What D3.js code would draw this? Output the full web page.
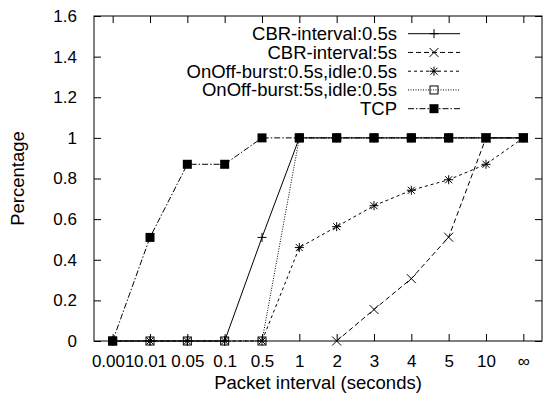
<!DOCTYPE html>
<html>
<head>
<meta charset="utf-8">
<script src="https://cdn.jsdelivr.net/npm/d3@7"></script>
<style>
  body { margin: 0; background: #fff; }
  svg { display: block; font-family: "Liberation Sans", Arial, Helvetica, sans-serif; }
</style>
</head>
<body>
<div id="chart"></div>
<script>
// Categories on the x axis (packet interval)
const categories = ["0.001", "0.01", "0.05", "0.1", "0.5", "1", "2", "3", "4", "5", "10", "\u221e"];
const yTicks = [0, 0.2, 0.4, 0.6, 0.8, 1, 1.2, 1.4, 1.6];

// Series values (null = no point)
const cbr05 = [0, 0, 0, 0, 0.51, 1, 1, 1, 1, 1, 1, 1];
const cbr5 = [null, null, null, null, null, null, 0, 0.155, 0.307, 0.511, 1, 1];
const onoff05 = [0, 0, 0, 0, 0, 0.46, 0.563, 0.666, 0.742, 0.794, 0.87, 1];
const onoff5 = [0, 0, 0, 0, 0, 1, 1, 1, 1, 1, 1, 1];
const tcp = [0, 0.51, 0.87, 0.87, 1, 1, 1, 1, 1, 1, 1, 1];

const seriesNames = [
  "CBR-interval:0.5s",
  "CBR-interval:5s",
  "OnOff-burst:0.5s,idle:0.5s",
  "OnOff-burst:5s,idle:0.5s",
  "TCP"
];

const series = [
  { name: seriesNames[0], values: cbr05, dash: null, marker: "plus" },
  { name: seriesNames[1], values: cbr5, dash: "5,3", marker: "cross" },
  { name: seriesNames[2], values: onoff05, dash: "3,3", marker: "star" },
  { name: seriesNames[3], values: onoff5, dash: "1,1.5", marker: "box" },
  { name: seriesNames[4], values: tcp, dash: "6,2,1.5,2", marker: "fbox" }
];

const width = 543, height = 398;
const plotLeft = 94, plotRight = 542, plotTop = 16, plotBottom = 341;

const svg = d3.select("#chart").append("svg")
  .attr("width", width)
  .attr("height", height);

const x = d3.scalePoint().domain(categories).range([plotLeft, plotRight]).padding(0.5);
const y = d3.scaleLinear().domain([0, 1.6]).range([plotBottom, plotTop]);

// Frame
svg.append("rect")
  .attr("x", plotLeft).attr("y", plotTop)
  .attr("width", plotRight - plotLeft).attr("height", plotBottom - plotTop)
  .attr("fill", "none").attr("stroke", "#000").attr("stroke-width", 1);

// Axes (gnuplot style: ticks inside, mirrored)
const tickLen = 7;
svg.append("g")
  .attr("transform", `translate(0,${plotBottom})`)
  .call(d3.axisBottom(x).tickSizeInner(-tickLen).tickSizeOuter(0).tickPadding(14))
  .call(g => g.select(".domain").remove())
  .call(g => g.selectAll("text").attr("font-size", "17px").attr("fill", "#000").attr("font-family", null));

svg.append("g")
  .attr("transform", `translate(0,${plotTop})`)
  .call(d3.axisTop(x).tickSizeInner(-tickLen).tickSizeOuter(0).tickFormat(""))
  .call(g => g.select(".domain").remove());

svg.append("g")
  .attr("transform", `translate(${plotLeft},0)`)
  .call(d3.axisLeft(y).tickValues(yTicks).tickFormat(d3.format("~g")).tickSizeInner(-tickLen).tickSizeOuter(0).tickPadding(17))
  .call(g => g.select(".domain").remove())
  .call(g => g.selectAll("text").attr("font-size", "17px").attr("fill", "#000").attr("font-family", null));

svg.append("g")
  .attr("transform", `translate(${plotRight},0)`)
  .call(d3.axisRight(y).tickValues(yTicks).tickSizeInner(-tickLen).tickSizeOuter(0).tickFormat(""))
  .call(g => g.select(".domain").remove());

svg.selectAll(".tick line").attr("stroke", "#000");

// Axis titles
svg.append("text")
  .attr("x", (plotLeft + plotRight) / 2).attr("y", 389)
  .attr("text-anchor", "middle").attr("font-size", "18.5px")
  .text("Packet interval (seconds)");

svg.append("text")
  .attr("transform", `translate(24,${(plotTop + plotBottom) / 2}) rotate(-90)`)
  .attr("text-anchor", "middle").attr("font-size", "18.5px")
  .text("Percentage");

// Marker drawing
function drawMarker(g, type, cx, cy) {
  const s = 4.5;
  if (type === "plus" || type === "star") {
    g.append("line").attr("x1", cx - s).attr("x2", cx + s).attr("y1", cy).attr("y2", cy).attr("stroke", "#000");
    g.append("line").attr("x1", cx).attr("x2", cx).attr("y1", cy - s).attr("y2", cy + s).attr("stroke", "#000");
  }
  if (type === "cross" || type === "star") {
    const c = type === "star" ? 3.5 : 4.5;
    g.append("line").attr("x1", cx - c).attr("x2", cx + c).attr("y1", cy - c).attr("y2", cy + c).attr("stroke", "#000");
    g.append("line").attr("x1", cx - c).attr("x2", cx + c).attr("y1", cy + c).attr("y2", cy - c).attr("stroke", "#000");
  }
  if (type === "box") {
    g.append("rect").attr("x", cx - 4).attr("y", cy - 4).attr("width", 8).attr("height", 8)
      .attr("fill", "none").attr("stroke", "#000");
  }
  if (type === "fbox") {
    g.append("rect").attr("x", cx - 4.5).attr("y", cy - 4.5).attr("width", 9).attr("height", 9)
      .attr("fill", "#000");
  }
}

const line = d3.line()
  .defined(d => d.v !== null)
  .x(d => x(d.c))
  .y(d => y(d.v));

// Series lines and points
series.forEach(s => {
  const g = svg.append("g");
  const pts = s.values.map((v, i) => ({ c: categories[i], v: v }));
  g.append("path")
    .attr("d", line(pts))
    .attr("fill", "none")
    .attr("stroke", "#000")
    .attr("stroke-width", 1)
    .attr("stroke-dasharray", s.dash);
  pts.filter(p => p.v !== null).forEach(p => drawMarker(g, s.marker, x(p.c), y(p.v)));
});

// Legend
const legendTextX = 397, legendX1 = 408, legendX2 = 460, legendY0 = 33.7, legendStep = 18.75;
series.forEach((s, i) => {
  const ly = legendY0 + i * legendStep;
  const g = svg.append("g");
  g.append("text")
    .attr("x", legendTextX).attr("y", ly)
    .attr("dy", "0.35em")
    .attr("text-anchor", "end").attr("font-size", "18.5px")
    .text(s.name);
  g.append("line")
    .attr("x1", legendX1).attr("x2", legendX2).attr("y1", ly).attr("y2", ly)
    .attr("stroke", "#000").attr("stroke-dasharray", s.dash);
  drawMarker(g, s.marker, (legendX1 + legendX2) / 2, ly);
});
</script>
</body>
</html>
